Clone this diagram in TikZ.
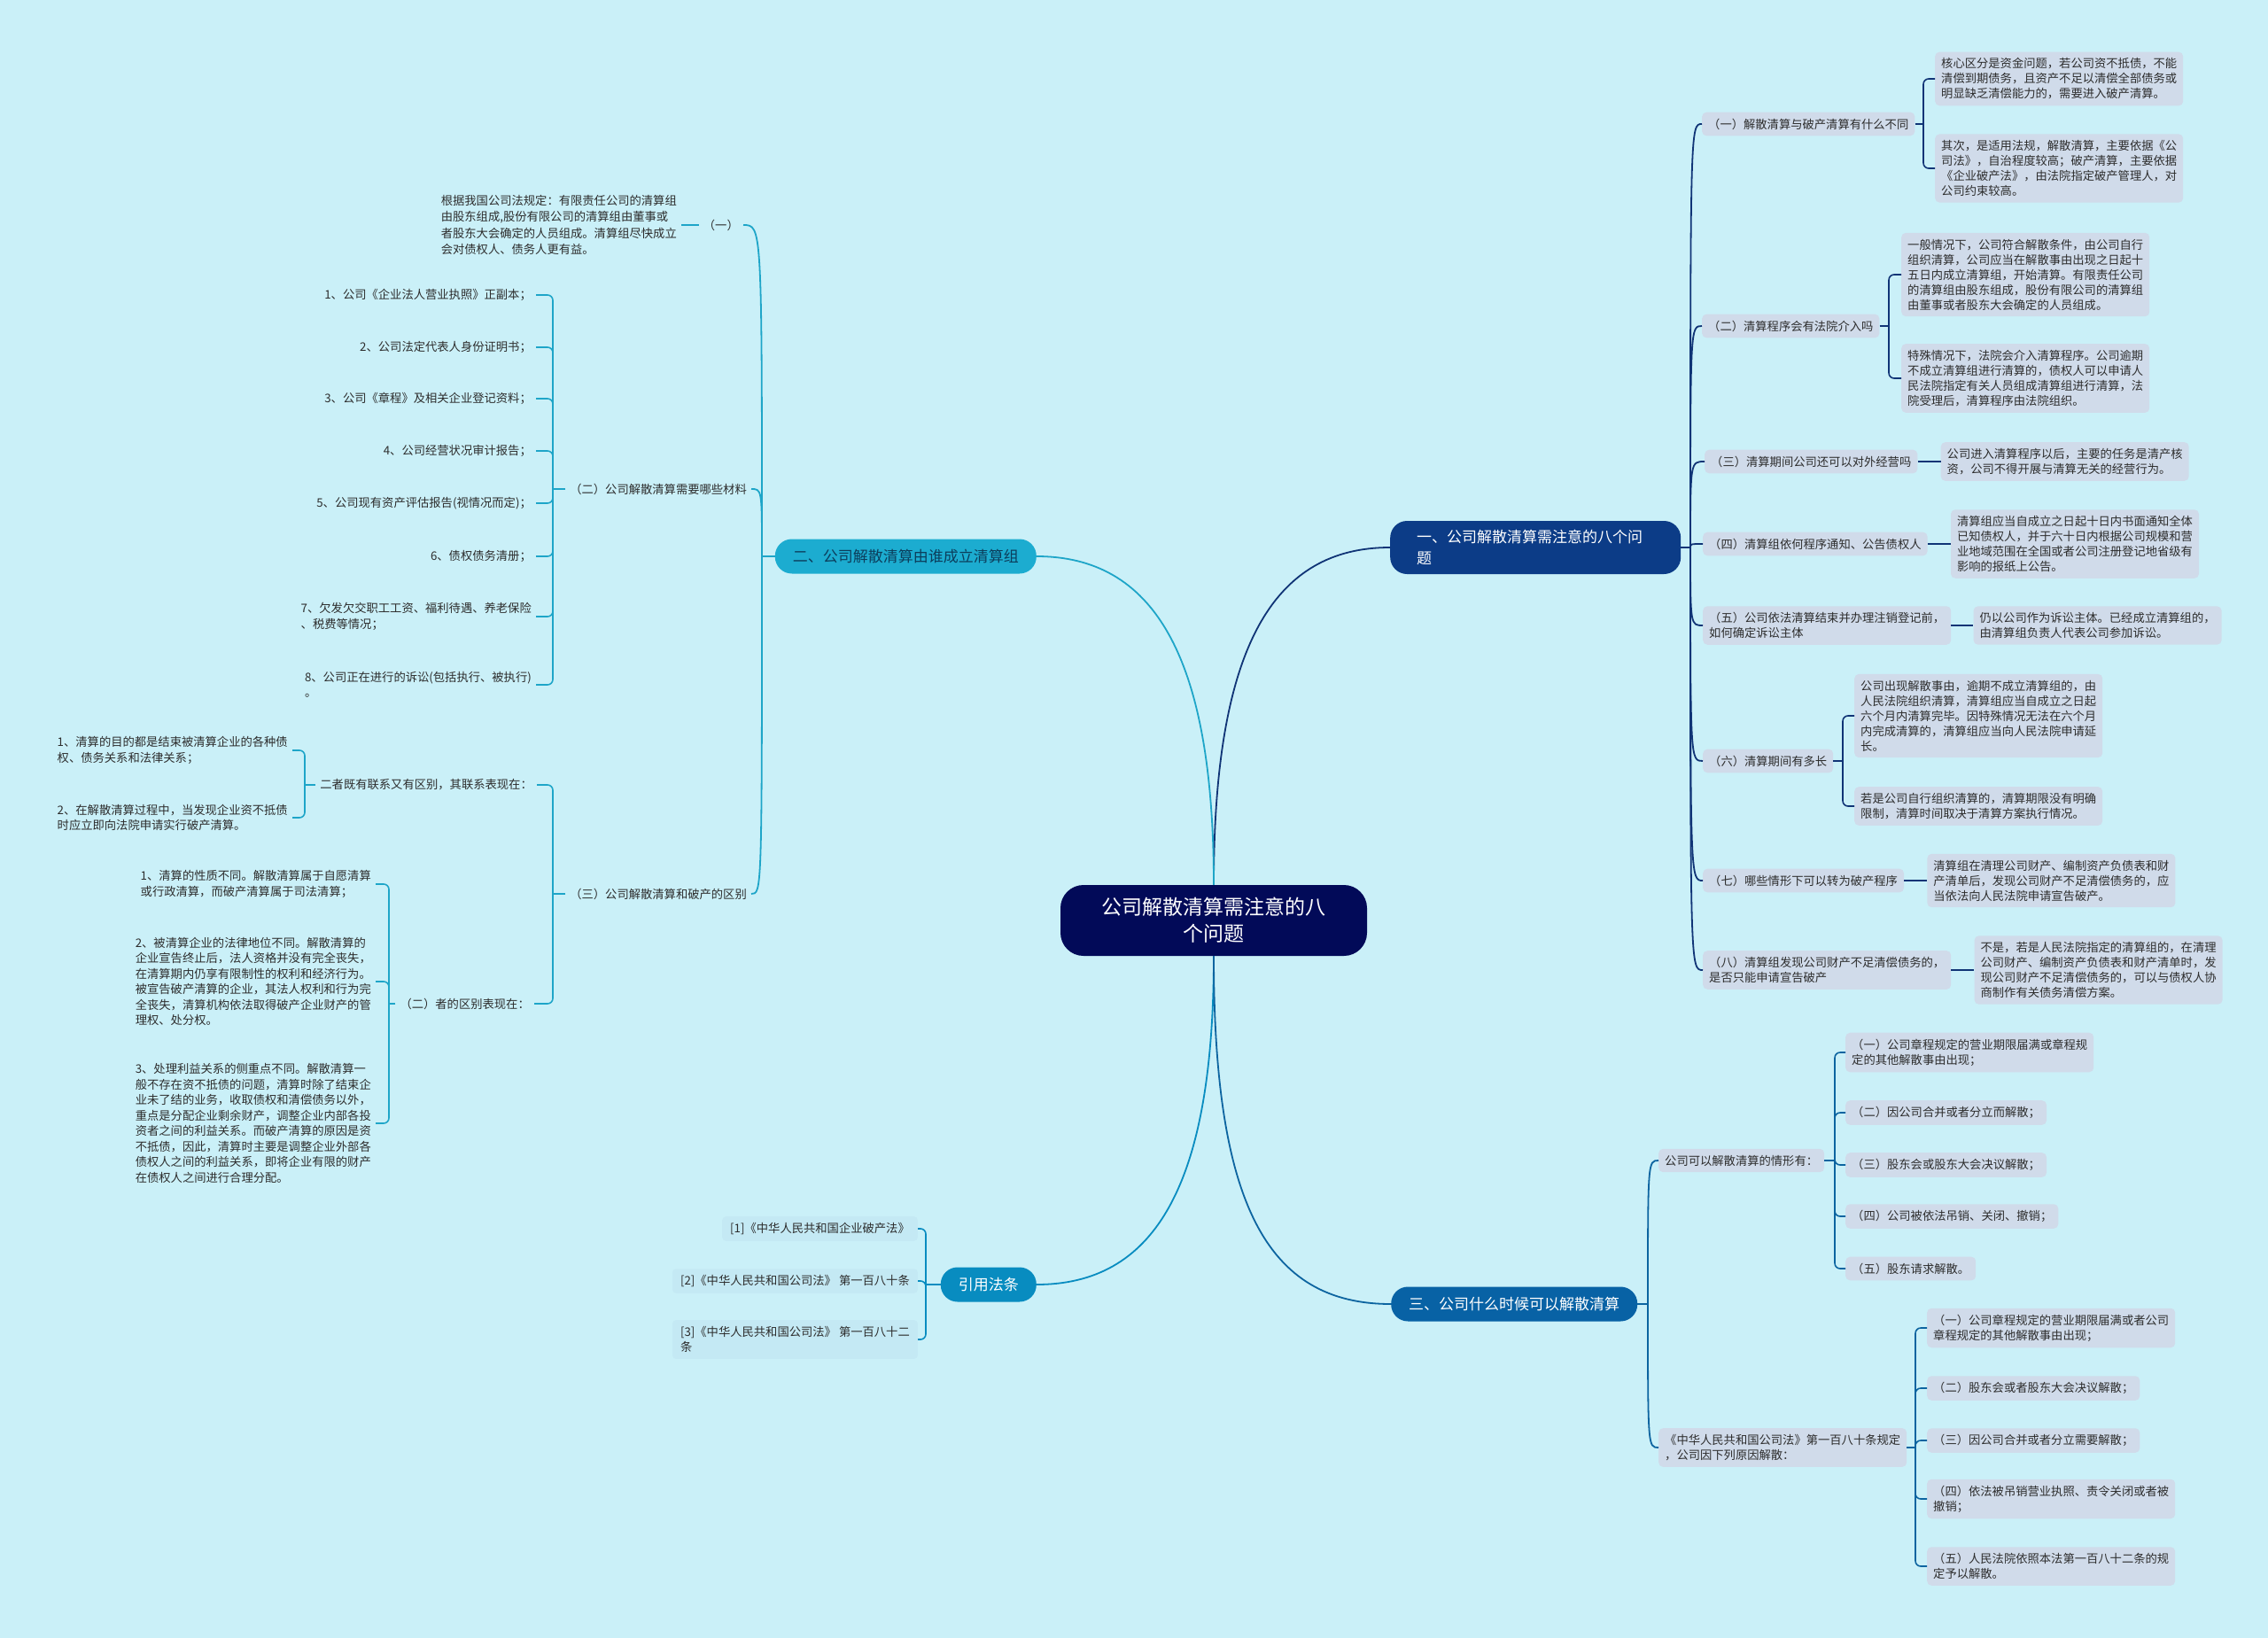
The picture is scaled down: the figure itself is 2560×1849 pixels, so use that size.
\documentclass[tikz,border=0pt]{standalone}
\usepackage{fontspec}
\setmainfont{Noto Sans CJK SC}
\usetikzlibrary{calc,positioning}

\definecolor{bgblue}{RGB}{202,240,248}
\definecolor{rootnavy}{RGB}{2,10,88}
\definecolor{navyone}{RGB}{12,60,135}
\definecolor{lineone}{RGB}{16,52,118}
\definecolor{cyantwo}{RGB}{28,172,208}
\definecolor{linetwo}{RGB}{30,165,200}
\definecolor{twotext}{RGB}{12,62,92}
\definecolor{refblue}{RGB}{8,140,192}
\definecolor{bluethree}{RGB}{8,98,165}
\definecolor{linethree}{RGB}{12,100,160}
\definecolor{boxgrey}{RGB}{208,219,234}
\definecolor{reffill}{RGB}{196,233,244}
\definecolor{textgrey}{RGB}{45,45,45}

\tikzset{
  rootnode/.style={fill=rootnavy, text=white, rounded corners=26pt,
    minimum width=346pt, minimum height=80pt, align=center,
    font=\fontsize{23}{30}\selectfont},
  mainnode/.style={rounded corners=19pt, minimum height=39pt, inner xsep=20pt,
    inner ysep=4pt, text=white, align=left, font=\fontsize{17}{24}\selectfont},
  topicbox/.style={fill=boxgrey, rounded corners=5pt, text=textgrey, inner xsep=7pt,
    inner ysep=7pt, align=left, font=\fontsize{13.3}{17}\selectfont},
  plaintext/.style={text=textgrey, inner xsep=5pt, inner ysep=3pt, align=left,
    font=\fontsize{13.3}{17.5}\selectfont},
  reftext/.style={plaintext, fill=reffill, rounded corners=4pt, inner xsep=9pt, inner ysep=7pt},
  link/.style={line width=1.8pt},
  brace/.style={line width=1.6pt, rounded corners=6pt},
}

\begin{document}
\begin{tikzpicture}[x=1pt, y=-1pt]
  \useasboundingbox (0,0) rectangle (2560,1849);
  \fill[bgblue] (0,0) rectangle (2560,1849);

  % centre and main topics
  \node[rootnode] (root) at (1370,1039) {公司解散清算需注意的八\\个问题};
  \node[mainnode, fill=navyone, anchor=west, text width=268pt, inner xsep=30pt,
    minimum height=60pt] (one) at (1569,618) {一、公司解散清算需注意的八个问\\题};
  \node[mainnode, fill=cyantwo, text=twotext, anchor=east] (two) at (1170,628) {二、公司解散清算由谁成立清算组};
  \node[mainnode, fill=refblue, anchor=east] (cite) at (1170,1450) {引用法条};
  \node[mainnode, fill=bluethree, anchor=west] (three) at (1570,1472) {三、公司什么时候可以解散清算};

  \draw[link, draw=lineone] (root.north) .. controls +(0,-272) and +(-130,0) .. (one.west);
  \draw[link, draw=linetwo] (root.north) .. controls +(0,-262) and +(130,0) .. (two.east);
  \draw[link, draw=refblue] (root.south) .. controls +(0,265) and +(130,0) .. (cite.east);
  \draw[link, draw=linethree] (root.south) .. controls +(0,280) and +(-140,0) .. (three.west);

  % 一、八个问题
  \node[topicbox, anchor=west] (q1) at (1921,140) {（一）解散清算与破产清算有什么不同};
  \node[topicbox, anchor=west] (q2) at (1921,368) {（二）清算程序会有法院介入吗};
  \node[topicbox, anchor=west] (q3) at (1924,521) {（三）清算期间公司还可以对外经营吗};
  \node[topicbox, anchor=west] (q4) at (1922,614) {（四）清算组依何程序通知、公告债权人};
  \node[topicbox, anchor=west] (q5) at (1922,706) {（五）公司依法清算结束并办理注销登记前，\\如何确定诉讼主体};
  \node[topicbox, anchor=west] (q6) at (1922,859) {（六）清算期间有多长};
  \node[topicbox, anchor=west] (q7) at (1922,994) {（七）哪些情形下可以转为破产程序};
  \node[topicbox, anchor=west] (q8) at (1922,1095) {（八）清算组发现公司财产不足清偿债务的，\\是否只能申请宣告破产};

  \coordinate (jone) at (1908,618);
  \draw[link, draw=lineone] (one.east) -- (jone);
  \foreach \i in {1,...,8}
    \draw[link, draw=lineone] (jone) .. controls (jone |- q\i.west) .. (q\i.west);

  \node[topicbox, anchor=west] (q1a) at (2184,89) {核心区分是资金问题，若公司资不抵债，不能\\清偿到期债务，且资产不足以清偿全部债务或\\明显缺乏清偿能力的，需要进入破产清算。};
  \node[topicbox, anchor=west] (q1b) at (2184,190) {其次，是适用法规，解散清算，主要依据《公\\司法》，自治程度较高；破产清算，主要依据\\《企业破产法》，由法院指定破产管理人，对\\公司约束较高。};
  \node[topicbox, anchor=west] (q2a) at (2146,310) {一般情况下，公司符合解散条件，由公司自行\\组织清算，公司应当在解散事由出现之日起十\\五日内成立清算组，开始清算。有限责任公司\\的清算组由股东组成，股份有限公司的清算组\\由董事或者股东大会确定的人员组成。};
  \node[topicbox, anchor=west] (q2b) at (2146,427) {特殊情况下，法院会介入清算程序。公司逾期\\不成立清算组进行清算的，债权人可以申请人\\民法院指定有关人员组成清算组进行清算，法\\院受理后，清算程序由法院组织。};
  \node[topicbox, right=26pt of q3] (q3a) {公司进入清算程序以后，主要的任务是清产核\\资，公司不得开展与清算无关的经营行为。};
  \node[topicbox, right=26pt of q4] (q4a) {清算组应当自成立之日起十日内书面通知全体\\已知债权人，并于六十日内根据公司规模和营\\业地域范围在全国或者公司注册登记地省级有\\影响的报纸上公告。};
  \node[topicbox, right=25pt of q5] (q5a) {仍以公司作为诉讼主体。已经成立清算组的，\\由清算组负责人代表公司参加诉讼。};
  \node[topicbox, anchor=west] (q6a) at (2093,808) {公司出现解散事由，逾期不成立清算组的，由\\人民法院组织清算，清算组应当自成立之日起\\六个月内清算完毕。因特殊情况无法在六个月\\内完成清算的，清算组应当向人民法院申请延\\长。};
  \node[topicbox, anchor=west] (q6b) at (2093,910) {若是公司自行组织清算的，清算期限没有明确\\限制，清算时间取决于清算方案执行情况。};
  \node[topicbox, right=26pt of q7] (q7a) {清算组在清理公司财产、编制资产负债表和财\\产清单后，发现公司财产不足清偿债务的，应\\当依法向人民法院申请宣告破产。};
  \node[topicbox, right=26pt of q8] (q8a) {不是，若是人民法院指定的清算组的，在清理\\公司财产、编制资产负债表和财产清单时，发\\现公司财产不足清偿债务的，可以与债权人协\\商制作有关债务清偿方案。};

  \coordinate (bq1) at (2171,140);
  \coordinate (bq2) at (2132,368);
  \coordinate (bq6) at (2080,859);
  \draw[link, draw=lineone] (q1.east) -- (bq1);
  \draw[link, draw=lineone] (q2.east) -- (bq2);
  \draw[link, draw=lineone] (q6.east) -- (bq6);
  \foreach \c in {q1a,q1b} \draw[brace, draw=lineone] (bq1) |- (\c.west);
  \foreach \c in {q2a,q2b} \draw[brace, draw=lineone] (bq2) |- (\c.west);
  \foreach \c in {q6a,q6b} \draw[brace, draw=lineone] (bq6) |- (\c.west);
  \foreach \i in {3,4,5,7,8}
    \draw[link, draw=lineone] (q\i.east) -- (q\i a.west);

  % 二、由谁成立清算组
  \node[plaintext, anchor=east] (s1) at (839,254) {（一）};
  \node[plaintext, anchor=east] (s2) at (848,552) {（二）公司解散清算需要哪些材料};
  \node[plaintext, anchor=east] (s3) at (848,1009) {（三）公司解散清算和破产的区别};

  \coordinate (jtwo) at (860,628);
  \draw[link, draw=linetwo] (two.west) -- (jtwo);
  \foreach \s in {s1,s2,s3}
    \draw[link, draw=linetwo] (jtwo) .. controls (jtwo |- \s.east) .. (\s.east);

  \node[plaintext, anchor=east, font=\fontsize{13.3}{18.3}\selectfont] (p1) at (769,254) {根据我国公司法规定：有限责任公司的清算组\\由股东组成,股份有限公司的清算组由董事或\\者股东大会确定的人员组成。清算组尽快成立\\会对债权人、债务人更有益。};
  \draw[link, draw=linetwo] (s1.west) -- (p1.east);

  \node[plaintext, anchor=east] (m1) at (605,333) {1、公司《企业法人营业执照》正副本；};
  \node[plaintext, anchor=east] (m2) at (605,392) {2、公司法定代表人身份证明书；};
  \node[plaintext, anchor=east] (m3) at (605,450) {3、公司《章程》及相关企业登记资料；};
  \node[plaintext, anchor=east] (m4) at (605,509) {4、公司经营状况审计报告；};
  \node[plaintext, anchor=east] (m5) at (605,568) {5、公司现有资产评估报告(视情况而定)；};
  \node[plaintext, anchor=east] (m6) at (605,628) {6、债权债务清册；};
  \node[plaintext, anchor=east] (m7) at (605,696) {7、欠发欠交职工工资、福利待遇、养老保险\\、税费等情况；};
  \node[plaintext, anchor=east] (m8) at (605,773) {8、公司正在进行的诉讼(包括执行、被执行)\\。};

  \coordinate (bs2) at (624,552);
  \draw[link, draw=linetwo] (s2.west) -- (bs2);
  \foreach \i in {1,...,8} \draw[brace, draw=linetwo] (bs2) |- (m\i.east);

  \node[plaintext, anchor=east] (d1) at (606,886) {二者既有联系又有区别，其联系表现在：};
  \node[plaintext, anchor=east] (d2) at (603,1133) {（二）者的区别表现在：};
  \coordinate (bs3) at (624,1009);
  \draw[link, draw=linetwo] (s3.west) -- (bs3);
  \foreach \c in {d1,d2} \draw[brace, draw=linetwo] (bs3) |- (\c.east);

  \node[plaintext, anchor=east] (e1) at (330,847) {1、清算的目的都是结束被清算企业的各种债\\权、债务关系和法律关系；};
  \node[plaintext, anchor=east] (e2) at (330,923) {2、在解散清算过程中，当发现企业资不抵债\\时应立即向法院申请实行破产清算。};
  \coordinate (bd1) at (344,886);
  \draw[link, draw=linetwo] (d1.west) -- (bd1);
  \foreach \c in {e1,e2} \draw[brace, draw=linetwo] (bd1) |- (\c.east);

  \node[plaintext, anchor=east] (f1) at (424,998) {1、清算的性质不同。解散清算属于自愿清算\\或行政清算，而破产清算属于司法清算；};
  \node[plaintext, anchor=east] (f2) at (424,1108) {2、被清算企业的法律地位不同。解散清算的\\企业宣告终止后，法人资格并没有完全丧失，\\在清算期内仍享有限制性的权利和经济行为。\\被宣告破产清算的企业，其法人权利和行为完\\全丧失，清算机构依法取得破产企业财产的管\\理权、处分权。};
  \node[plaintext, anchor=east] (f3) at (424,1268) {3、处理利益关系的侧重点不同。解散清算一\\般不存在资不抵债的问题，清算时除了结束企\\业未了结的业务，收取债权和清偿债务以外，\\重点是分配企业剩余财产，调整企业内部各投\\资者之间的利益关系。而破产清算的原因是资\\不抵债，因此，清算时主要是调整企业外部各\\债权人之间的利益关系，即将企业有限的财产\\在债权人之间进行合理分配。};
  \coordinate (bd2) at (439,1133);
  \draw[link, draw=linetwo] (d2.west) -- (bd2);
  \foreach \c in {f1,f2,f3} \draw[brace, draw=linetwo] (bd2) |- (\c.east);

  % 引用法条
  \node[reftext, anchor=east] (r1) at (1036,1387) {[1]《中华人民共和国企业破产法》};
  \node[reftext, anchor=east] (r2) at (1036,1446) {[2]《中华人民共和国公司法》 第一百八十条};
  \node[reftext, anchor=east] (r3) at (1036,1512) {[3]《中华人民共和国公司法》 第一百八十二\\条};
  \coordinate (bcite) at (1045,1450);
  \draw[link, draw=refblue] (cite.west) -- (bcite);
  \foreach \c in {r1,r2,r3} \draw[brace, draw=refblue] (bcite) |- (\c.east);

  % 三、什么时候可以解散清算
  \node[topicbox, anchor=west] (g1) at (1872,1310) {公司可以解散清算的情形有：};
  \node[topicbox, anchor=west] (g2) at (1872,1634) {《中华人民共和国公司法》第一百八十条规定\\，公司因下列原因解散：};
  \coordinate (jthree) at (1860,1472);
  \draw[link, draw=linethree] (three.east) -- (jthree);
  \foreach \c in {g1,g2}
    \draw[link, draw=linethree] (jthree) .. controls (jthree |- \c.west) .. (\c.west);

  \node[topicbox, anchor=west] (h1) at (2083,1188) {（一）公司章程规定的营业期限届满或章程规\\定的其他解散事由出现；};
  \node[topicbox, anchor=west] (h2) at (2083,1256) {（二）因公司合并或者分立而解散；};
  \node[topicbox, anchor=west] (h3) at (2083,1315) {（三）股东会或股东大会决议解散；};
  \node[topicbox, anchor=west] (h4) at (2083,1373) {（四）公司被依法吊销、关闭、撤销；};
  \node[topicbox, anchor=west] (h5) at (2083,1432) {（五）股东请求解散。};
  \coordinate (bg1) at (2071,1310);
  \draw[link, draw=linethree] (g1.east) -- (bg1);
  \foreach \i in {1,...,5} \draw[brace, draw=linethree] (bg1) |- (h\i.west);

  \node[topicbox, anchor=west] (k1) at (2175,1499) {（一）公司章程规定的营业期限届满或者公司\\章程规定的其他解散事由出现；};
  \node[topicbox, anchor=west] (k2) at (2175,1567) {（二）股东会或者股东大会决议解散；};
  \node[topicbox, anchor=west] (k3) at (2175,1626) {（三）因公司合并或者分立需要解散；};
  \node[topicbox, anchor=west] (k4) at (2175,1692) {（四）依法被吊销营业执照、责令关闭或者被\\撤销；};
  \node[topicbox, anchor=west] (k5) at (2175,1768) {（五）人民法院依照本法第一百八十二条的规\\定予以解散。};
  \coordinate (bg2) at (2162,1634);
  \draw[link, draw=linethree] (g2.east) -- (bg2);
  \foreach \i in {1,...,5} \draw[brace, draw=linethree] (bg2) |- (k\i.west);
\end{tikzpicture}
\end{document}
